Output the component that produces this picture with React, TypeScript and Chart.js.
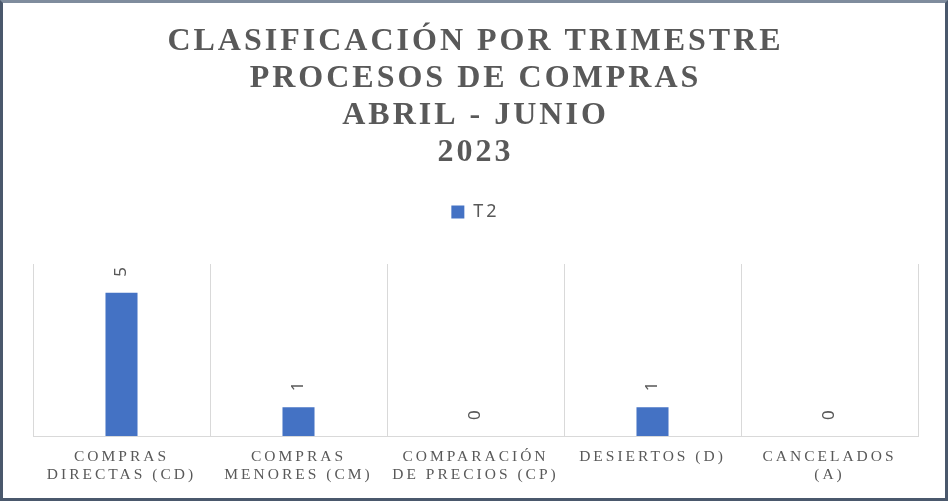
import React, { useEffect, useRef } from "react";
import { Chart, registerables } from "chart.js";

Chart.register(...registerables);

const titleLines = [
  "CLASIFICACIÓN POR TRIMESTRE",
  "PROCESOS DE COMPRAS",
  "ABRIL - JUNIO",
  "2023",
];
const categories = [
  ["COMPRAS", "DIRECTAS (CD)"],
  ["COMPRAS", "MENORES (CM)"],
  ["COMPARACIÓN", "DE PRECIOS (CP)"],
  ["DESIERTOS (D)"],
  ["CANCELADOS", "(A)"],
];
const seriesName = "T2";
const seriesValues = [5, 1, 0, 1, 0];
const yMax = 6;

const TEXT = "#595959";
const BAR = "#4472C4";
const GRID = "#d9d9d9";

const spacingPlugin = {
  id: "letterSpacing",
  beforeUpdate(chart: any) {
    chart.ctx.letterSpacing = "3px";
  },
  beforeDraw(chart: any) {
    chart.ctx.letterSpacing = "3px";
  },
};

const valueLabelPlugin = {
  id: "valueLabels",
  afterDatasetsDraw(chart: any) {
    const ctx = chart.ctx;
    const meta = chart.getDatasetMeta(0);
    const data = chart.data.datasets[0].data;
    meta.data.forEach((bar: any, i: number) => {
      ctx.save();
      ctx.letterSpacing = "0px";
      ctx.font = '17px "Noto Sans"';
      ctx.fillStyle = TEXT;
      ctx.translate(bar.x, bar.y - 16);
      ctx.rotate(-Math.PI / 2);
      ctx.textAlign = "left";
      ctx.textBaseline = "middle";
      ctx.fillText(String(data[i]), 0, 0);
      ctx.restore();
    });
  },
};

export default function App() {
  const canvasRef = useRef<HTMLCanvasElement | null>(null);

  useEffect(() => {
    document.body.style.margin = "0";
    const canvas = canvasRef.current;
    if (!canvas) return;
    const chart = new Chart(canvas, {
      type: "bar",
      data: {
        labels: categories,
        datasets: [
          {
            label: seriesName,
            data: seriesValues,
            backgroundColor: BAR,
            borderWidth: 0,
            categoryPercentage: 1,
            barPercentage: 0.181,
          },
        ],
      },
      options: {
        animation: false,
        responsive: true,
        maintainAspectRatio: false,
        layout: { padding: { left: 30, right: 27, top: 0, bottom: 2 } },
        plugins: {
          tooltip: { enabled: false },
          title: {
            display: true,
            text: titleLines,
            color: TEXT,
            font: { family: '"Liberation Serif", "Times New Roman", serif', size: 32, weight: "bold", lineHeight: 1.15 },
            padding: { top: 20.6, bottom: 22.2 },
          },
          legend: {
            display: true,
            position: "top",
            labels: {
              color: TEXT,
              boxWidth: 13,
              boxHeight: 13,
              padding: 10,
              font: { family: '"Noto Sans", sans-serif', size: 18 },
            },
          },
        },
        scales: {
          x: {
            position: "bottom",
            grid: { display: true, color: GRID, offset: true, drawTicks: false, lineWidth: 1 },
            border: { display: true, color: GRID, width: 1 },
            ticks: {
              color: TEXT,
              padding: 12,
              maxRotation: 0,
              autoSkip: false,
              font: { family: '"Liberation Serif", "Times New Roman", serif', size: 15.5, lineHeight: 1.16 },
            },
          },
          x2: {
            type: "category",
            position: "top",
            display: true,
            grid: { display: false, drawTicks: false },
            border: { display: false },
            ticks: { display: false },
            afterFit(scale: any) {
              scale.height = 33;
            },
          },
          y: {
            display: false,
            min: 0,
            max: yMax,
          },
        },
      },
      plugins: [spacingPlugin, valueLabelPlugin],
    });
    return () => chart.destroy();
  }, []);

  return (
    <div
      style={{
        width: 948,
        height: 501,
        boxSizing: "border-box",
        borderTop: "3px solid #7f8c9d",
        borderLeft: "3px solid #4a586c",
        borderRight: "3px solid #4a586c",
        borderBottom: "3px solid #4a586c",
        background: "#ffffff",
        position: "relative",
      }}
    >
      <div style={{ position: "relative", width: "100%", height: "100%" }}>
        <canvas ref={canvasRef} />
      </div>
    </div>
  );
}
